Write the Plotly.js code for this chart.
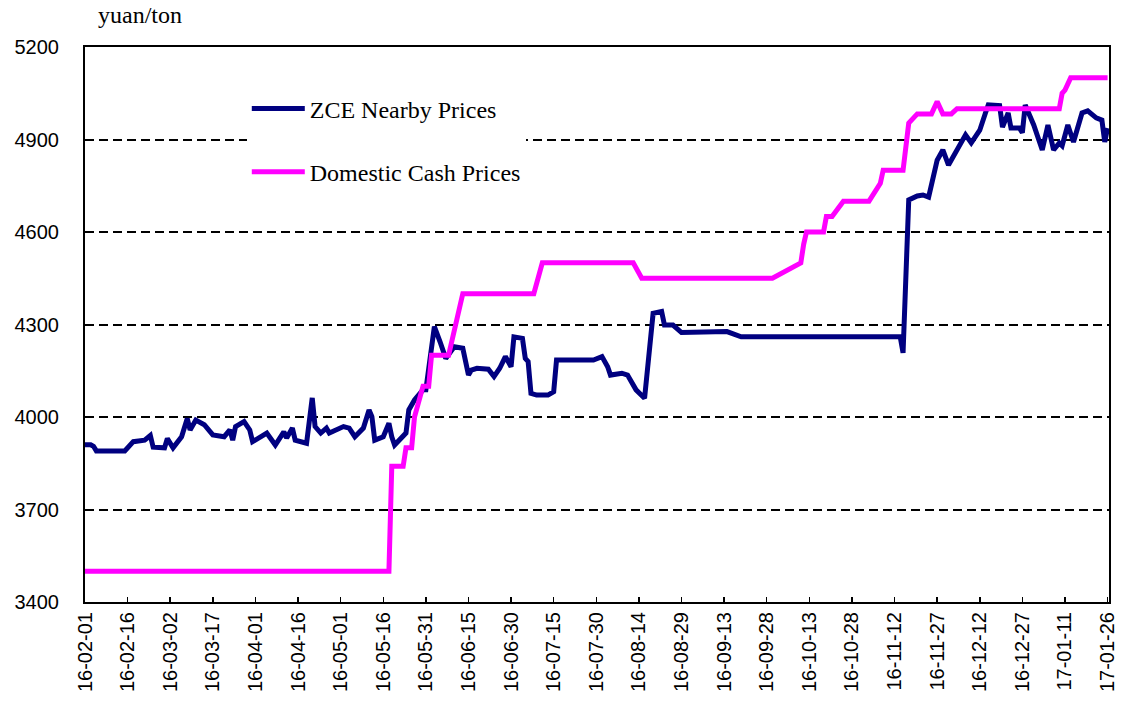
<!DOCTYPE html>
<html>
<head>
<meta charset="utf-8">
<script src="https://cdn.plot.ly/plotly-3.0.1.min.js"></script>
<style>
  html, body { margin: 0; padding: 0; background: #fff; }
  #chart { width: 1122px; height: 711px; }
</style>
</head>
<body>
<div id="chart"></div>
<script>
// ZCE nearby futures prices
const zceDates = [
    '2016-02-01', '2016-02-03', '2016-02-04', '2016-02-05', '2016-02-15', '2016-02-18', '2016-02-22', '2016-02-24',
    '2016-02-25', '2016-02-29', '2016-03-01', '2016-03-03', '2016-03-06', '2016-03-07', '2016-03-08', '2016-03-09',
    '2016-03-11', '2016-03-14', '2016-03-17', '2016-03-21', '2016-03-23', '2016-03-24', '2016-03-25', '2016-03-28',
    '2016-03-30', '2016-03-31', '2016-04-05', '2016-04-08', '2016-04-11', '2016-04-12', '2016-04-14', '2016-04-15',
    '2016-04-19', '2016-04-21', '2016-04-22', '2016-04-24', '2016-04-26', '2016-04-27', '2016-04-29', '2016-05-02',
    '2016-05-04', '2016-05-06', '2016-05-09', '2016-05-11', '2016-05-12', '2016-05-13', '2016-05-16', '2016-05-18',
    '2016-05-19', '2016-05-20', '2016-05-24', '2016-05-25', '2016-05-27', '2016-05-30', '2016-05-31', '2016-06-03',
    '2016-06-05', '2016-06-07', '2016-06-10', '2016-06-13', '2016-06-15', '2016-06-16', '2016-06-18', '2016-06-22',
    '2016-06-24', '2016-06-26', '2016-06-28', '2016-06-30', '2016-07-01', '2016-07-04', '2016-07-05', '2016-07-06',
    '2016-07-07', '2016-07-09', '2016-07-13', '2016-07-15', '2016-07-16', '2016-07-29', '2016-08-01', '2016-08-03',
    '2016-08-04', '2016-08-08', '2016-08-10', '2016-08-12', '2016-08-13', '2016-08-16', '2016-08-19', '2016-08-22',
    '2016-08-23', '2016-08-26', '2016-08-29', '2016-09-14', '2016-09-19', '2016-11-14', '2016-11-15', '2016-11-17',
    '2016-11-20', '2016-11-22', '2016-11-24', '2016-11-27', '2016-11-29', '2016-12-01', '2016-12-07', '2016-12-09',
    '2016-12-12', '2016-12-14', '2016-12-15', '2016-12-19', '2016-12-20', '2016-12-22', '2016-12-23', '2016-12-26',
    '2016-12-27', '2016-12-28', '2016-12-31', '2017-01-03', '2017-01-05', '2017-01-07', '2017-01-09', '2017-01-10',
    '2017-01-12', '2017-01-14', '2017-01-17', '2017-01-19', '2017-01-20', '2017-01-22', '2017-01-24', '2017-01-25',
    '2017-01-26'
];
const zcePrices = [
    3910, 3910, 3905, 3890, 3890, 3920, 3925, 3940,
    3902, 3900, 3930, 3900, 3936, 3970, 3995, 3958,
    3990, 3975, 3942, 3936, 3958, 3925, 3969, 3985,
    3958, 3920, 3948, 3909, 3952, 3932, 3964, 3925,
    3915, 4062, 3969, 3948, 3964, 3948, 3958, 3969,
    3964, 3936, 3964, 4023, 4001, 3925, 3936, 3980,
    3936, 3909, 3948, 4023, 4055, 4088, 4088, 4293,
    4244, 4190, 4228, 4223, 4136, 4152, 4158, 4155,
    4131, 4158, 4196, 4163, 4260, 4255, 4190, 4180,
    4077, 4071, 4071, 4082, 4185, 4185, 4196, 4163,
    4136, 4142, 4136, 4098, 4088, 4061, 4336, 4342,
    4298, 4298, 4274, 4277, 4260, 4260, 4208, 4704,
    4717, 4720, 4713, 4833, 4866, 4817, 4915, 4889,
    4930, 4986, 5012, 5010, 4940, 4986, 4937, 4937,
    4922, 5012, 4947, 4866, 4947, 4866, 4889, 4880,
    4947, 4892, 4986, 4993, 4986, 4970, 4963, 4892,
    4937
];

// Domestic cash prices
const cashDates = [
    '2016-02-01', '2016-05-18', '2016-05-19', '2016-05-23', '2016-05-24', '2016-05-26', '2016-05-27', '2016-05-30',
    '2016-06-01', '2016-06-02', '2016-06-08', '2016-06-13', '2016-07-08', '2016-07-11', '2016-08-12', '2016-08-15',
    '2016-09-30', '2016-10-10', '2016-10-11', '2016-10-12', '2016-10-18', '2016-10-19', '2016-10-21', '2016-10-25',
    '2016-11-03', '2016-11-07', '2016-11-08', '2016-11-15', '2016-11-17', '2016-11-20', '2016-11-25', '2016-11-27',
    '2016-11-29', '2016-12-02', '2016-12-04', '2017-01-09', '2017-01-10', '2017-01-11', '2017-01-13', '2017-01-26'
];
const cashPrices = [
    3500, 3500, 3840, 3840, 3900, 3900, 4000, 4100,
    4100, 4200, 4200, 4400, 4400, 4500, 4500, 4450,
    4450, 4500, 4560, 4600, 4600, 4650, 4650, 4700,
    4700, 4758, 4800, 4800, 4953, 4983, 4983, 5023,
    4983, 4983, 5000, 5000, 5050, 5060, 5100, 5100
];

const seriesNames = ['ZCE Nearby Prices', 'Domestic Cash Prices'];
const yTicks = [3400, 3700, 4000, 4300, 4600, 4900, 5200];

const data = [
    {
        x: zceDates,
        y: zcePrices,
        name: seriesNames[0],
        type: 'scatter',
        mode: 'lines',
        legendgroup: 'a',
        line: { color: '#000080', width: 5 }
    },
    {
        x: cashDates,
        y: cashPrices,
        name: seriesNames[1],
        type: 'scatter',
        mode: 'lines',
        legendgroup: 'b',
        line: { color: '#ff00ff', width: 5 }
    }
];

const layout = {
    width: 1122,
    height: 711,
    margin: { l: 85, r: 13, t: 47, b: 109 },
    paper_bgcolor: '#fff',
    plot_bgcolor: '#fff',
    showlegend: true,
    legend: {
        x: 0.158, y: 0.929,
        xanchor: 'left', yanchor: 'top',
        bgcolor: '#fff',
        borderwidth: 0,
        traceorder: 'grouped',
        tracegroupgap: 29,
        itemwidth: 53,
        font: { family: 'Liberation Serif', size: 24, color: '#000' }
    },
    xaxis: {
        type: 'date',
        range: ['2016-02-01', '2017-01-26 12:00'],
        tick0: '2016-02-01',
        dtick: 15 * 86400000,
        tickformat: '%y-%m-%d',
        tickangle: -90,
        ticks: 'inside',
        ticklen: 5,
        tickwidth: 1.5,
        tickcolor: '#000',
        showgrid: false,
        showline: true,
        linecolor: '#000',
        linewidth: 2,
        mirror: true,
        tickfont: { family: 'Liberation Sans', size: 20, color: '#000' }
    },
    yaxis: {
        range: [3400, 5200],
        tickvals: yTicks,
        ticks: '',
        ticklabelstandoff: 20,
        showgrid: true,
        gridcolor: '#000',
        gridwidth: 2,
        griddash: '9px,5px',
        zeroline: false,
        showline: true,
        linecolor: '#000',
        linewidth: 2,
        mirror: true,
        tickfont: { family: 'Liberation Sans', size: 20, color: '#000' }
    },
    annotations: [{
        text: 'yuan/ton',
        xref: 'paper', yref: 'paper',
        x: 0.011, y: 1.058,
        xanchor: 'left', yanchor: 'middle',
        showarrow: false,
        font: { family: 'Liberation Serif', size: 24, color: '#000' }
    }]
};

const config = {
    displayModeBar: false,
    staticPlot: true
};

Plotly.newPlot('chart', data, layout, config);
</script>
</body>
</html>
